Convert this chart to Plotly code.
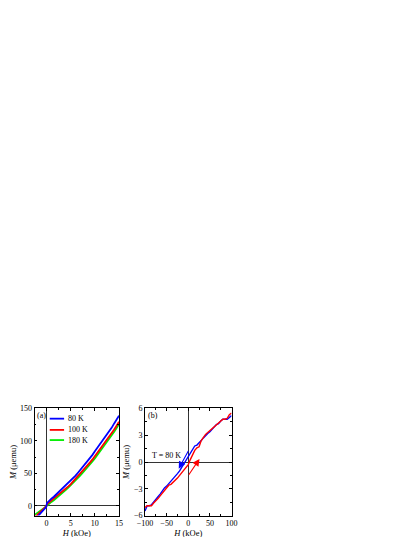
import plotly.graph_objects as go

# panel (a): M(H) at three temperatures
H_a = [-2.5, -2.0, -1.5, -1.0, -0.5, -0.1, 0.1, 0.5, 1.0, 1.5, 2.0, 2.5, 3.0, 3.5, 4.0, 4.5,
       5.0, 5.5, 6.0, 6.5, 7.0, 7.5, 8.0, 8.5, 9.0, 9.5, 10.0, 10.5, 11.0, 11.5, 12.0, 12.5,
       13.0, 13.5, 14.0, 14.5, 15.0]
M_80 = [-24, -18, -13.5, -9.5, -5.5, -2, 4.5, 8, 11, 14, 17.5, 20.5, 24, 27.5, 31, 34.5,
        38.5, 42.5, 46.5, 51, 55.5, 59.5, 64.5, 69, 74, 78.5, 84, 89, 94, 99, 104.5, 109.5,
        115, 120.5, 127, 133, 139]
M_100 = [-18, -14.5, -11, -7.5, -4, -1, 2.5, 5, 7.5, 10.5, 13.5, 16.5, 19.5, 23, 26.5, 30,
         33.5, 37.5, 41.5, 45.5, 49.5, 54, 58, 62.5, 67, 71.5, 76.5, 81, 86, 91, 96, 101,
         106, 111.5, 117.5, 123.5, 129.5]
M_180 = [-14, -11, -8.5, -6, -3.5, -1, 1.5, 3.5, 6, 8.5, 11.5, 14.5, 17.5, 21, 24.5, 28,
         31.5, 35, 39, 43, 47, 51, 55, 59.5, 64, 68.5, 73, 78, 82.5, 87.5, 92.5, 97.5,
         103, 108.5, 114, 120, 126]
labels_a = ["80 K", "100 K", "180 K"]
colors_a = ["#0000ff", "#ff0000", "#00ee00"]

# panel (b): hysteresis loop at 80 K
H_down = [100, 95, 90, 85, 80, 75, 70, 65, 60, 55, 50, 45, 40, 35, 30, 25, 20, 15, 10, 5, 0,
          -5, -10, -15, -20, -25, -30, -35, -40, -45, -50, -55, -60, -65, -70, -75, -80,
          -85, -90, -95, -100]
M_down = [5.2, 5.0, 4.8, 4.8, 4.8, 4.6, 4.3, 4.2, 3.9, 3.7, 3.4, 3.2, 3.0, 2.7, 2.4, 2.1,
          1.9, 1.8, 1.4, 1.0, 0.5, 0.1, -0.3, -0.7, -1.0, -1.3, -1.6, -1.9, -2.2, -2.5,
          -2.7, -2.9, -3.3, -3.6, -3.9, -4.2, -4.5, -4.8, -4.9, -4.9, -5.5]
H_up = [-100, -95, -90, -85, -80, -75, -70, -65, -60, -55, -50, -45, -40, -35, -30, -25,
        -20, -15, -10, -5, 0, 5, 10, 15, 20, 25, 30, 35, 40, 45, 50, 55, 60, 65, 70, 75,
        80, 85, 90, 95, 100]
M_up = [-5.1, -4.9, -4.9, -4.9, -4.6, -4.4, -4.1, -3.8, -3.5, -3.2, -2.9, -2.6, -2.5, -2.3,
        -2.0, -1.8, -1.5, -1.2, -0.9, -0.6, -0.3, 0.3, 0.8, 1.3, 1.6, 1.7, 2.4, 2.8, 3.1,
        3.3, 3.5, 3.8, 4.0, 4.2, 4.3, 4.5, 4.8, 4.8, 4.9, 5.3, 5.5]
# arrows: (tail H, tail M, head H, head M)
arrow_down = (2, 1.4, -22, -0.75)
arrow_up = (-1, -1.6, 26, 0.35)

FONT = "Liberation Serif"
fig = go.Figure()

for m, name, c in [(M_180, labels_a[2], colors_a[2]), (M_100, labels_a[1], colors_a[1]),
                   (M_80, labels_a[0], colors_a[0])]:
    fig.add_trace(go.Scatter(x=H_a, y=m, mode="lines", name=name,
                             line=dict(color=c, width=1.8), xaxis="x", yaxis="y"))

fig.add_trace(go.Scatter(x=H_down, y=M_down, mode="lines", line=dict(color="#0000ff", width=1.4),
                         xaxis="x2", yaxis="y2"))
fig.add_trace(go.Scatter(x=H_up, y=M_up, mode="lines", line=dict(color="#ff0000", width=1.4),
                         xaxis="x2", yaxis="y2"))

def ax(domain, rng, dtick, minor, title, anchor):
    return dict(domain=domain, range=rng, dtick=dtick, tick0=0, anchor=anchor,
                ticks="inside", ticklen=3, tickwidth=0.8, tickcolor="black",
                minor=dict(dtick=minor, ticks="inside", ticklen=2, tickwidth=0.8, tickcolor="black"),
                showline=True, linecolor="black", linewidth=0.8, mirror="allticks",
                showgrid=False, zeroline=True, zerolinecolor="#333", zerolinewidth=0.8,
                tickfont=dict(size=8, family=FONT, color="black"),
                title=dict(text=title, font=dict(size=8.5, family=FONT, color="black"), standoff=2),
                automargin=False)

ydom = [0.0549, 0.2542]
fig.update_layout(
    width=415, height=537, margin=dict(l=0, r=0, t=0, b=0),
    paper_bgcolor="white", plot_bgcolor="white", showlegend=False,
    xaxis=ax([0.0639, 0.2675], [-2.5, 15], 5, 2.5, "<i>H</i> (kOe)", "y"),
    yaxis=ax(ydom, [-15, 150], 50, 25, "<i>M</i> (μemu)", "x"),
    xaxis2=ax([0.3301, 0.5386], [-100, 100], 50, 25, "<i>H</i> (kOe)", "y2"),
    yaxis2=ax(ydom, [-6, 6], 3, 1.5, "<i>M</i> (μemu)", "x2"),
)

# legend drawn by hand, like the original
rows = [0.905, 0.80, 0.705]
for lab, c, yy in zip(labels_a, colors_a, rows):
    fig.add_shape(type="line", xref="x domain", yref="y domain", x0=0.18, x1=0.35, y0=yy, y1=yy,
                  line=dict(color=c, width=1.8))
    fig.add_annotation(xref="x domain", yref="y domain", x=0.37, y=yy, text=lab, showarrow=False,
                       xanchor="left", yanchor="middle", font=dict(size=8, family=FONT, color="black"))

fig.add_annotation(xref="x domain", yref="y domain", x=0.01, y=0.995, text="(a)", showarrow=False,
                   xanchor="left", yanchor="top", font=dict(size=8, family=FONT, color="black"))
fig.add_annotation(xref="x2 domain", yref="y2 domain", x=0.01, y=0.995, text="(b)", showarrow=False,
                   xanchor="left", yanchor="top", font=dict(size=8, family=FONT, color="black"))
fig.add_annotation(xref="x2", yref="y2", x=-89, y=0.05, text="T = 80 K", showarrow=False,
                   xanchor="left", yanchor="bottom", font=dict(size=8, family=FONT, color="black"))

for (x0, y0, x1, y1), c in [(arrow_down, "#0000ff"), (arrow_up, "#ff0000")]:
    fig.add_annotation(xref="x2", yref="y2", axref="x2", ayref="y2", x=x1, y=y1, ax=x0, ay=y0,
                       text="", showarrow=True, arrowhead=2, arrowsize=1.3, arrowwidth=1.1,
                       arrowcolor=c)

fig.write_html("out.html")
